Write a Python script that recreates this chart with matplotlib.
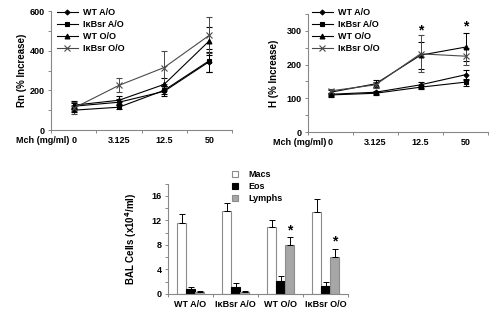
import matplotlib
matplotlib.use("Agg")
import matplotlib.pyplot as plt
from matplotlib.lines import Line2D
from matplotlib.patches import Patch
import numpy as np

plt.rcParams['font.family'] = ['Liberation Sans', 'DejaVu Sans']
plt.rcParams['font.weight'] = 'bold'
plt.rcParams['font.size'] = 6

# ---------------- data ----------------
doses = ['0', '3.125', '12.5', '50']
series = ['WT A/O', 'IκBsr A/O', 'WT O/O', 'IκBsr O/O']

rn_wt_ao = [120, 140, 195, 345]
rn_ik_ao = [100, 115, 200, 350]
rn_wt_oo = [125, 150, 230, 450]
rn_ik_oo = [110, 225, 315, 478]
rn_err_wt_ao = [15, 15, 25, 50]
rn_err_ik_ao = [10, 10, 20, 60]
rn_err_wt_oo = [20, 20, 30, 70]
rn_err_ik_oo = [30, 35, 85, 90]

h_wt_ao = [112, 118, 140, 170]
h_ik_ao = [110, 115, 133, 148]
h_wt_oo = [118, 143, 228, 252]
h_ik_oo = [122, 140, 232, 225]
h_err_wt_ao = [5, 5, 8, 15]
h_err_ik_ao = [5, 5, 5, 10]
h_err_wt_oo = [8, 10, 40, 42]
h_err_ik_oo = [5, 8, 55, 25]
h_star_doses = [2, 3]
h_star_vals = [282, 292]

groups = ['WT A/O', 'IκBsr A/O', 'WT O/O', 'IκBsr O/O']
cell_types = ['Macs', 'Eos', 'Lymphs']
macs = [11.6, 13.5, 10.9, 13.35]
eos = [0.8, 1.2, 2.05, 1.35]
lymphs = [0.3, 0.3, 8.0, 6.1]
macs_err = [1.4, 1.4, 1.2, 2.1]
eos_err = [0.35, 0.55, 0.85, 0.6]
lymphs_err = [0.15, 0.12, 1.25, 1.2]
bal_star_groups = [2, 3]
bal_star_vals = [9.2, 7.4]

# ---------------- styles ----------------
markers = ['D', 's', '^', 'x']
msizes = [2.5, 3.5, 3.5, 4]
lcolors = ['black', 'black', 'black', '#4a4a4a']
spine_col = '#888888'

fig = plt.figure(figsize=(5.0, 3.12), dpi=100)


def style_axes(ax, ylim, major, minor):
    for s in ['top', 'right']:
        ax.spines[s].set_visible(False)
    for s in ['left', 'bottom']:
        ax.spines[s].set_color(spine_col)
        ax.spines[s].set_linewidth(0.8)
    ax.set_ylim(*ylim)
    ax.set_yticks(np.arange(ylim[0], ylim[1] + 0.001, major))
    ax.set_yticks(np.arange(ylim[0], ylim[1] + 0.001, minor), minor=True)
    ax.tick_params(axis='y', which='both', direction='out', length=2.5, width=0.7,
                   color=spine_col, labelsize=6.5, pad=2)
    ax.set_xlim(-0.5, 3.5)
    ax.set_xticks(np.arange(-0.5, 3.6, 1.0))
    ax.set_xticklabels([])
    ax.set_xticks(np.arange(4), minor=True)
    ax.tick_params(axis='x', which='major', direction='out', length=2.5, width=0.7,
                   color=spine_col)
    ax.tick_params(axis='x', which='minor', length=0, labelsize=6.5, pad=4)


def line_panel(ax, ys, errs, ylim, major, minor, ylabel, lab_x, leg_anchor):
    x = np.arange(len(doses))
    handles = []
    for i, (y, e) in enumerate(zip(ys, errs)):
        ax.errorbar(x, y, yerr=e, color=lcolors[i], lw=0.8, marker=markers[i],
                    ms=msizes[i], mew=0.8, capsize=2, elinewidth=0.7, capthick=0.7)
        handles.append(Line2D([], [], color=lcolors[i], lw=0.8, marker=markers[i],
                              ms=msizes[i], mew=0.8))
    style_axes(ax, ylim, major, minor)
    ax.set_xticklabels(doses, minor=True)
    ax.annotate('Mch (mg/ml)', xy=(0, 0), xycoords=('data', 'axes fraction'),
                xytext=(-3, -4), textcoords='offset points', ha='right', va='top',
                fontsize=6.5, fontweight='bold')
    ax.set_ylabel(ylabel, fontsize=7, fontweight='bold')
    ax.yaxis.set_label_coords(lab_x, 0.5)
    ax.legend(handles, series, loc='upper left', bbox_to_anchor=leg_anchor,
              bbox_transform=fig.transFigure, frameon=False, fontsize=6.5,
              handlelength=2.3, handletextpad=0.6, labelspacing=0.35,
              borderpad=0, borderaxespad=0)


ax1 = fig.add_axes([0.102, 0.5833, 0.362, 0.3814])
line_panel(ax1, [rn_wt_ao, rn_ik_ao, rn_wt_oo, rn_ik_oo],
           [rn_err_wt_ao, rn_err_ik_ao, rn_err_wt_oo, rn_err_ik_oo],
           (0, 600), 200, 100, 'Rn (% Increase)', -0.13, (0.114, 0.975))

ax2 = fig.add_axes([0.616, 0.5769, 0.36, 0.378])
line_panel(ax2, [h_wt_ao, h_ik_ao, h_wt_oo, h_ik_oo],
           [h_err_wt_ao, h_err_ik_ao, h_err_wt_oo, h_err_ik_oo],
           (0, 350), 100, 50, 'H (% Increase)', -0.16, (0.624, 0.975))
for d, v in zip(h_star_doses, h_star_vals):
    ax2.text(d, v, '*', ha='center', va='bottom', fontsize=10, fontweight='bold')

# ---------------- bar panel ----------------
ax3 = fig.add_axes([0.336, 0.0577, 0.36, 0.354])
xg = np.arange(len(groups))
bw = 0.2
fills = ['white', 'black', '#a6a6a6']
edges = ['#8c8c8c', 'black', '#8c8c8c']
vals = [macs, eos, lymphs]
errs = [macs_err, eos_err, lymphs_err]
for j in range(3):
    xpos = xg + (j - 1) * bw
    ax3.bar(xpos, vals[j], width=bw, color=fills[j], edgecolor=edges[j], linewidth=0.8,
            zorder=2)
    ax3.errorbar(xpos, vals[j], yerr=[np.zeros(4), errs[j]], fmt='none', ecolor='black',
                 elinewidth=0.7, capsize=2, capthick=0.7, zorder=3)
style_axes(ax3, (0, 18), 4, 2)
ax3.set_yticks(np.arange(0, 17, 4))
ax3.set_xticklabels(groups, minor=True)
ax3.set_ylabel('BAL Cells (x10$^\\mathbf{4}$/ml)', fontsize=7, fontweight='bold')
ax3.yaxis.set_label_coords(-0.16, 0.5)
for g, v in zip(bal_star_groups, bal_star_vals):
    ax3.text(g + bw, v, '*', ha='center', va='bottom', fontsize=10, fontweight='bold')
bh = [Patch(facecolor=fills[j], edgecolor=edges[j], linewidth=0.8) for j in range(3)]
ax3.legend(bh, cell_types, loc='upper left', bbox_to_anchor=(0.463, 0.455),
           bbox_transform=fig.transFigure, frameon=False, fontsize=6.5,
           handlelength=0.7, handleheight=0.7, handletextpad=1.2, labelspacing=0.35,
           borderpad=0, borderaxespad=0)

fig.savefig('out.png', dpi=100)
